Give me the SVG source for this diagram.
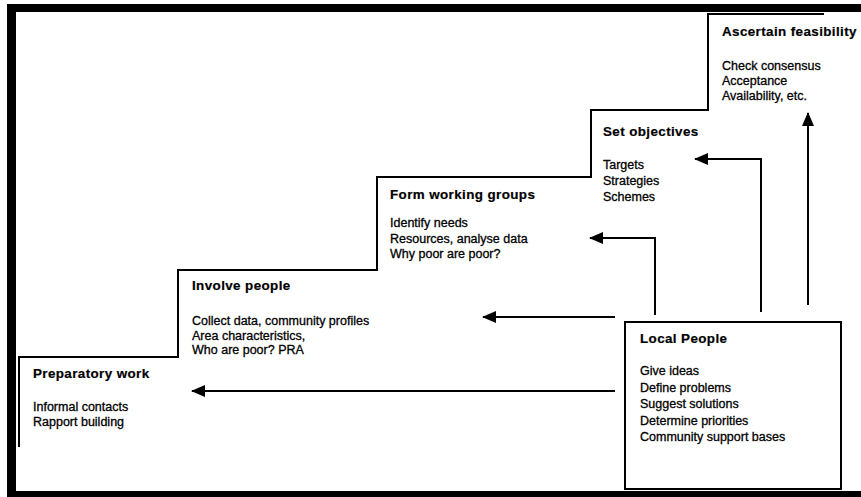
<svg xmlns="http://www.w3.org/2000/svg" width="861" height="497" viewBox="0 0 861 497">
  <style>
    text { font-family: "Liberation Sans", Arial, sans-serif; font-size: 12.5px; fill: #000; stroke: #000; stroke-width: 0.3px; }
    .title { font-weight: bold; font-size: 13.4px; letter-spacing: 0.4px; stroke-width: 0.2px; }
    .step { fill: none; stroke: #000; stroke-width: 2; }
    .box { fill: #fff; stroke: #000; stroke-width: 2; }
    .link { fill: none; stroke: #000; stroke-width: 2; }
  </style>
  <defs>
    <marker id="head" viewBox="0 0 14 12" refX="13" refY="6" markerWidth="14" markerHeight="12" markerUnits="userSpaceOnUse" orient="auto">
      <path d="M0,0 L14,6 L0,12 Z" fill="#000"/>
    </marker>
  </defs>
  <rect width="861" height="497" fill="#fff"/>

  <!-- heavy frame: top, left and bottom bars -->
  <g id="frame" fill="#000">
    <rect x="7" y="4" width="854" height="8"/>
    <rect x="7" y="4" width="9" height="493"/>
    <rect x="7" y="491" width="854" height="6"/>
  </g>

  <!-- staircase outline -->
  <path class="step" d="M19,447 V357 H178 V270 H377 V177 H591 V110 H708 V14 H824"/>

  <g id="preparatory">
    <text class="title" x="33" y="378">Preparatory work</text>
    <text x="33" y="411">Informal contacts</text>
    <text x="33" y="426">Rapport building</text>
  </g>

  <g id="involve">
    <text class="title" x="192" y="289.5">Involve people</text>
    <text x="192" y="324.5">Collect data, community profiles</text>
    <text x="192" y="339.5">Area characteristics,</text>
    <text x="192" y="354">Who are poor? PRA</text>
  </g>

  <g id="working-groups">
    <text class="title" x="390" y="198.5">Form working groups</text>
    <text x="390" y="227">Identify needs</text>
    <text x="390" y="242.5">Resources, analyse data</text>
    <text x="390" y="257.5">Why poor are poor?</text>
  </g>

  <g id="objectives">
    <text class="title" x="603" y="136">Set objectives</text>
    <text x="603" y="168.5">Targets</text>
    <text x="603" y="185">Strategies</text>
    <text x="603" y="201">Schemes</text>
  </g>

  <g id="feasibility">
    <text class="title" x="722" y="36">Ascertain feasibility</text>
    <text x="722" y="69.5">Check consensus</text>
    <text x="722" y="85">Acceptance</text>
    <text x="722" y="99.5">Availability, etc.</text>
  </g>

  <g id="local-people">
    <rect class="box" x="625" y="322" width="216" height="167"/>
    <text class="title" x="640" y="342.5">Local People</text>
    <text x="640" y="374.5">Give ideas</text>
    <text x="640" y="391.5">Define problems</text>
    <text x="640" y="407.5">Suggest solutions</text>
    <text x="640" y="424.5">Determine priorities</text>
    <text x="640" y="441">Community support bases</text>
  </g>

  <g id="connectors">
    <path class="link" d="M615,391 H192" marker-end="url(#head)"/>
    <path class="link" d="M615,317 H483" marker-end="url(#head)"/>
    <path class="link" d="M655,315 V238 H590" marker-end="url(#head)"/>
    <path class="link" d="M761,312 V159 H695" marker-end="url(#head)"/>
    <path class="link" d="M808,305 V113" marker-end="url(#head)"/>
  </g>
</svg>
